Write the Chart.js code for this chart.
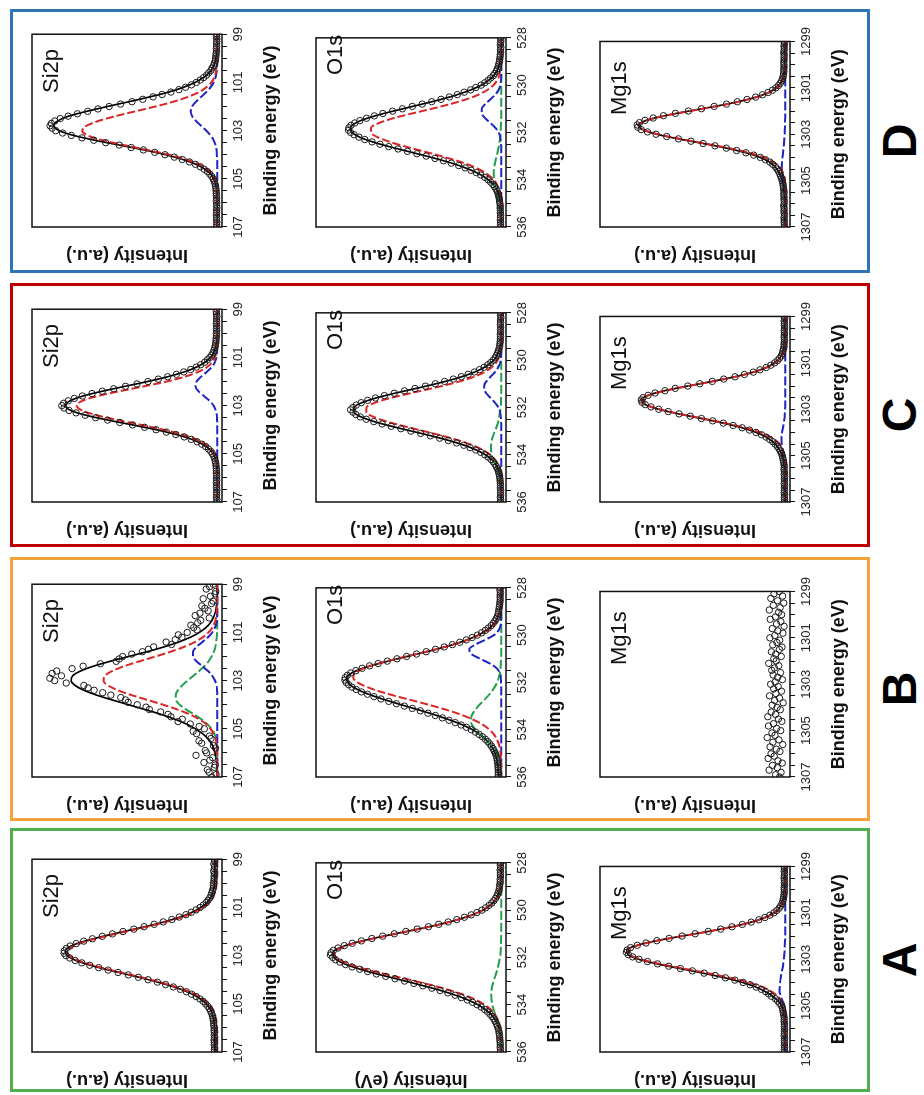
<!DOCTYPE html>
<html>
<head>
<meta charset="utf-8">
<title>XPS spectra A-D</title>
<script src="https://cdn.jsdelivr.net/npm/chart.js@4.4.1/dist/chart.umd.min.js"></script>
<style>
  html, body { margin: 0; padding: 0; background: #fff; }
  body { width: 924px; height: 1095px; overflow: hidden; position: relative; }
  #page {
    position: absolute; left: 0; top: 0;
    width: 1095px; height: 924px;
    transform-origin: 0 0;
    transform: translate(0px, 1095px) rotate(-90deg);
    background: #fff;
  }
  .frame { position: absolute; box-sizing: border-box; border: 3px solid; }
  .letter {
    position: absolute; width: 80px; text-align: center;
    font: bold 48px "Liberation Sans", Arial, sans-serif; color: #000; line-height: 48px;
  }
  canvas { position: absolute; }
</style>
</head>
<body>
<div id="page"></div>
<script>
// ---- axes ----
const PANELS = ['A', 'B', 'C', 'D'];
const SPECTRA = ['Si2p', 'O1s', 'Mg1s'];
const SI2P_TICKS = [107, 105, 103, 101, 99];
const O1S_TICKS = [536, 534, 532, 530, 528];
const MG1S_TICKS = [1307, 1305, 1303, 1301, 1299];

// ---- binding energies (eV): 0.2 eV grid for fitted curves, 0.1 eV grid for measured points ----
const SI2P_E = [99,99.2,99.4,99.6,99.8,100,100.2,100.4,100.6,100.8,101,101.2,101.4,101.6,101.8,102,102.2,102.4,102.6,102.8,103,103.2,103.4,103.6,103.8,104,104.2,104.4,104.6,104.8,105,105.2,105.4,105.6,105.8,106,106.2,106.4,106.6,106.8,107];
const O1S_E = [528,528.2,528.4,528.6,528.8,529,529.2,529.4,529.6,529.8,530,530.2,530.4,530.6,530.8,531,531.2,531.4,531.6,531.8,532,532.2,532.4,532.6,532.8,533,533.2,533.4,533.6,533.8,534,534.2,534.4,534.6,534.8,535,535.2,535.4,535.6,535.8,536];
const MG1S_E = [1299,1299.2,1299.4,1299.6,1299.8,1300,1300.2,1300.4,1300.6,1300.8,1301,1301.2,1301.4,1301.6,1301.8,1302,1302.2,1302.4,1302.6,1302.8,1303,1303.2,1303.4,1303.6,1303.8,1304,1304.2,1304.4,1304.6,1304.8,1305,1305.2,1305.4,1305.6,1305.8,1306,1306.2,1306.4,1306.6,1306.8,1307];
const SI2P_E_FINE = [99,99.1,99.2,99.3,99.4,99.5,99.6,99.7,99.8,99.9,100,100.1,100.2,100.3,100.4,100.5,100.6,100.7,100.8,100.9,101,101.1,101.2,101.3,101.4,101.5,101.6,101.7,101.8,101.9,102,102.1,102.2,102.3,102.4,102.5,102.6,102.7,102.8,102.9,103,103.1,103.2,103.3,103.4,103.5,103.6,103.7,103.8,103.9,104,104.1,104.2,104.3,104.4,104.5,104.6,104.7,104.8,104.9,105,105.1,105.2,105.3,105.4,105.5,105.6,105.7,105.8,105.9,106,106.1,106.2,106.3,106.4,106.5,106.6,106.7,106.8,106.9,107];
const O1S_E_FINE = [528,528.1,528.2,528.3,528.4,528.5,528.6,528.7,528.8,528.9,529,529.1,529.2,529.3,529.4,529.5,529.6,529.7,529.8,529.9,530,530.1,530.2,530.3,530.4,530.5,530.6,530.7,530.8,530.9,531,531.1,531.2,531.3,531.4,531.5,531.6,531.7,531.8,531.9,532,532.1,532.2,532.3,532.4,532.5,532.6,532.7,532.8,532.9,533,533.1,533.2,533.3,533.4,533.5,533.6,533.7,533.8,533.9,534,534.1,534.2,534.3,534.4,534.5,534.6,534.7,534.8,534.9,535,535.1,535.2,535.3,535.4,535.5,535.6,535.7,535.8,535.9,536];
const MG1S_E_FINE = [1299,1299.1,1299.2,1299.3,1299.4,1299.5,1299.6,1299.7,1299.8,1299.9,1300,1300.1,1300.2,1300.3,1300.4,1300.5,1300.6,1300.7,1300.8,1300.9,1301,1301.1,1301.2,1301.3,1301.4,1301.5,1301.6,1301.7,1301.8,1301.9,1302,1302.1,1302.2,1302.3,1302.4,1302.5,1302.6,1302.7,1302.8,1302.9,1303,1303.1,1303.2,1303.3,1303.4,1303.5,1303.6,1303.7,1303.8,1303.9,1304,1304.1,1304.2,1304.3,1304.4,1304.5,1304.6,1304.7,1304.8,1304.9,1305,1305.1,1305.2,1305.3,1305.4,1305.5,1305.6,1305.7,1305.8,1305.9,1306,1306.1,1306.2,1306.3,1306.4,1306.5,1306.6,1306.7,1306.8,1306.9,1307];

// ---- sample A ----
const A_SI2P_DATA = [1.6,1.3,1.8,1.4,1.5,1.9,1.4,1.7,1.6,1.8,1.9,2.0,2.1,2.5,2.9,3.3,3.9,4.8,5.8,7.3,9.0,11.1,13.6,16.5,20.0,23.9,28.4,33.2,38.5,43.9,49.6,55.2,60.5,65.7,70.3,74.2,77.4,79.4,80.5,80.6,79.6,77.6,74.8,71.3,67.1,62.4,57.4,52.2,46.8,41.5,36.4,31.5,27.2,23.1,19.4,16.2,13.5,11.1,9.1,7.4,6.1,5.0,4.1,3.5,2.9,2.5,2.3,2.0,1.9,1.8,1.6,1.7,1.5,1.6,1.4,1.7,1.5,1.6,1.4,1.5,1.6];
const A_SI2P_FIT = [1.2,1.2,1.2,1.2,1.3,1.5,1.8,2.5,3.6,5.5,8.6,13.2,19.6,28.0,38.1,49.2,60.1,69.9,76.9,80.0,79.1,74.4,66.8,57.1,46.5,36.1,26.9,19.1,13.1,8.8,5.8,3.8,2.6,2.0,1.6,1.4,1.2,1.2,1.2,1.2,1.2];
const A_SI2P_RED = [0,0,0,0,0.1,0.3,0.6,1.3,2.4,4.3,7.4,12.0,18.4,26.8,36.9,48.0,58.9,68.7,75.7,78.8,77.9,73.2,65.6,55.9,45.3,34.9,25.7,17.9,11.9,7.6,4.6,2.6,1.4,0.8,0.4,0.2,0,0,0,0,0];

const A_O1S_DATA = [0.4,0.5,0.3,0.6,0.4,0.5,0.4,0.6,0.5,0.7,0.9,1.0,1.3,1.8,2.3,3.0,3.9,5.0,6.4,8.2,10.2,12.8,15.8,19.4,23.4,27.9,32.9,38.3,44.2,50.2,56.3,62.4,68.1,73.6,78.4,82.6,85.9,88.3,89.6,89.9,88.7,87.2,84.9,82.0,78.5,74.5,70.3,65.7,60.8,55.9,50.9,46.0,41.3,36.5,32.2,28.1,24.3,21.0,17.8,15.1,12.7,10.5,8.8,7.2,5.9,4.8,3.9,3.2,2.5,2.1,1.6,1.3,1.1,0.9,0.8,0.7,0.6,0.5,0.6,0.4,0.5];
const A_O1S_FIT = [0,0,0,0,0.2,0.5,1.0,1.9,3.4,5.9,9.7,15.3,22.9,32.4,43.7,55.9,67.7,78.1,85.4,88.8,88.1,84.5,78.1,70.0,60.4,50.5,40.9,31.8,23.9,17.4,12.3,8.4,5.5,3.5,2.1,1.2,0.7,0.4,0.2,0.1,0];
const A_O1S_RED = [0,0,0,0,0.2,0.5,1.0,1.9,3.4,5.8,9.6,15.1,22.6,32.0,43.2,55.3,67.0,77.2,84.5,87.8,87.0,82.8,75.7,66.4,56.1,45.4,35.4,26.5,19.0,13.1,8.7,5.5,3.4,2.0,1.1,0.6,0.3,0.2,0.1,0,0];
const A_O1S_GREEN = [0,0,0,0,0,0,0,0,0,0,0,0,0,0,0,0,0.1,0.1,0.2,0.4,0.7,1.2,1.7,2.4,3.2,4.0,4.7,5.1,5.3,5.1,4.7,4.0,3.2,2.4,1.7,1.2,0.7,0.4,0.2,0.1,0.1];

const A_MG1S_DATA = [0.5,0.4,0.6,0.3,0.5,0.6,0.4,0.5,0.3,0.6,0.5,0.5,0.6,0.8,1.0,1.3,1.7,2.4,3.2,4.5,6.0,8.1,10.7,13.9,17.9,22.6,28.0,34.0,40.5,47.4,54.3,61.1,67.6,73.3,77.9,81.4,83.2,83.6,82.6,80.3,77.0,72.5,67.2,61.3,55.2,48.9,42.7,36.9,31.5,26.5,22.2,18.5,15.3,12.5,10.3,8.7,7.2,5.2,4.0,3.0,2.0,1.5,1.3,1.0,0.8,0.6,0.5,0.6,0.4,0.5,0.3,0.5,0.4,0.6,0.3,0.5,0.4,0.5,0.3,0.5,0.4];
const A_MG1S_FIT = [0.4,0.4,0.4,0.4,0.4,0.4,0.6,1.0,1.8,3.2,6.0,10.7,17.9,28.0,40.5,54.3,67.7,78.0,83.4,82.8,77.2,67.5,55.5,43.2,31.9,22.5,15.4,10.5,6.6,3.8,1.9,1.1,0.6,0.5,0.4,0.4,0.4,0.4,0.4,0.4,0.4];
const A_MG1S_RED = [0,0,0,0,0,0,0.2,0.6,1.3,2.8,5.6,10.3,17.5,27.6,40.1,53.9,67.2,77.4,82.7,81.9,76.0,66.0,53.6,40.8,29.1,19.4,12.1,7.1,3.9,2.0,1.0,0.5,0.2,0.1,0,0,0,0,0,0,0];
const A_MG1S_BLUE = [0,0,0,0,0,0,0,0,0,0,0,0,0,0,0,0,0.1,0.2,0.3,0.5,0.8,1.1,1.5,2.0,2.4,2.7,2.9,3.0,2.3,1.4,0.5,0.2,0,0,0,0,0,0,0,0,0];

// ---- sample B ----
const B_SI2P_DATA = [2.1,4.0,5.8,0.8,1.2,3.6,7.4,2.2,3.0,8.1,6.5,4.8,9.1,11.6,4.2,8.7,10.3,13.9,12.4,10.6,15.8,20.5,18.6,22.1,26.9,24.0,33.5,36.2,39.4,45.0,49.8,51.6,53.2,61.5,70.6,76.4,84.5,86.9,82.0,88.1,85.6,79.5,70.2,68.0,64.8,60.3,56.0,50.8,48.3,46.9,42.1,37.5,35.7,29.8,25.9,24.4,18.4,20.6,14.2,9.5,6.8,12.7,10.9,4.1,3.3,9.6,8.2,2.0,0.9,6.3,5.6,11.2,2.4,3.9,7.0,1.1,1.5,5.2,4.3,0.6,2.8];
const B_SI2P_FIT = [0,0,0,0.1,0.3,0.6,1.2,2.1,3.6,6.0,9.4,14.2,20.3,28.0,37.0,46.7,56.4,65.1,71.9,76.1,76.9,74.8,70.2,63.6,55.4,46.7,38.0,29.6,22.4,16.3,11.5,7.8,5.1,3.2,1.9,1.2,0.6,0.3,0.2,0.1,0];
const B_SI2P_RED = [0,0,0,0,0.1,0.2,0.4,0.7,1.4,2.6,4.6,7.6,11.8,17.5,24.5,32.6,41.0,48.9,55.3,59.1,59.9,57.5,52.3,45.1,36.8,28.5,20.9,14.5,9.5,5.9,3.5,2.0,1.0,0.5,0.2,0.1,0,0,0,0,0];
const B_SI2P_BLUE = [0,0,0,0,0,0,0,0.1,0.4,1.2,2.6,4.9,7.9,10.9,12.7,12.7,10.9,7.9,4.9,2.6,1.2,0.4,0.1,0,0,0,0,0,0,0,0,0,0,0,0,0,0,0,0,0,0];
const B_SI2P_GREEN = [0,0,0,0,0,0,0,0,0,0,0.1,0.3,0.6,1.0,1.8,3.0,4.6,6.8,9.5,12.6,15.7,18.5,20.7,21.8,21.7,19.8,16.4,12.3,8.4,5.3,3.0,1.5,0.7,0.3,0.1,0,0,0,0,0,0];

const B_O1S_DATA = [0.5,0.7,0.4,0.6,0.6,0.5,0.7,0.8,1.0,1.2,1.4,1.6,2.0,2.6,3.3,4.2,5.3,6.8,8.4,10.3,12.6,15.3,18.4,21.8,25.7,30.0,34.6,39.5,44.6,49.8,54.9,60.0,64.8,69.3,73.2,76.5,79.2,81.0,82.1,82.3,81.6,80.3,78.6,76.3,73.6,70.4,67.0,63.3,59.2,55.2,51.0,46.8,42.6,38.6,34.7,31.0,27.5,24.2,21.1,18.3,15.8,13.6,11.6,9.9,8.4,7.1,6.0,5.1,4.3,3.7,3.1,2.7,2.3,2.1,1.9,1.7,1.7,1.6,1.5,1.6,1.5];
const B_O1S_FIT = [0,0,0.1,0.2,0.5,0.9,1.6,2.9,4.9,7.9,12.2,18.0,25.4,34.3,44.3,54.6,64.5,72.9,78.7,81.4,80.8,77.9,73.0,66.3,58.6,50.3,41.9,33.9,26.7,20.3,15.1,11.3,8.3,6.0,4.4,3.3,2.5,2.0,1.7,1.5,1.4];
const B_O1S_RED = [0,0,0.1,0.2,0.4,0.7,1.4,2.6,4.5,7.5,11.8,17.7,25.4,34.5,44.7,55.1,64.7,72.3,76.9,77.9,75.6,70.5,63.2,54.4,44.9,35.7,27.2,20.0,14.1,9.5,6.2,3.9,2.3,1.3,0.7,0.4,0.2,0.1,0,0,0];
const B_O1S_BLUE = [0,0,0,0,0,0,0,0.1,0.4,1.4,3.9,8.4,13.7,16.8,15.7,11.1,6.0,2.4,0.7,0.2,0.1,0,0,0,0,0,0,0,0,0,0,0,0,0,0,0,0,0,0,0,0];
const B_O1S_GREEN = [0,0,0,0,0,0,0,0,0,0,0,0,0,0,0,0.1,0.2,0.4,0.7,1.3,2.2,3.5,5.2,7.3,9.7,12.1,14.1,15.5,16,15.4,13.6,11.1,8.3,5.8,3.7,2.2,1.2,0.6,0.3,0.1,0];

const B_MG1S_DATA = [3.2,5.9,1.4,7.6,4.1,0.8,6.3,2.7,8.4,3.5,1.9,5.2,7.9,2.3,4.6,0.6,6.8,3.9,1.2,5.5,8.1,2.9,4.4,6.6,1.7,3.1,7.3,5.0,2.1,6.0,4.8,8.7,3.4,5.7,7.1,2.5,6.4,4.0,1.5,5.3,7.7,3.7,6.1,2.0,4.9,8.3,3.0,5.6,1.1,6.9,4.3,2.6,7.4,5.1,9.2,3.6,1.8,6.2,8.8,4.5,2.4,7.0,5.4,9.5,3.3,6.5,1.3,8.0,4.7,2.8,7.5,5.8,9.0,3.8,1.6,6.7,4.2,8.5,2.2,5.1,3.0];

// ---- sample C ----
const C_SI2P_DATA = [0.3,0.5,0.4,0.2,0.4,0.3,0.5,0.3,0.4,0.3,0.5,0.4,0.6,0.6,0.8,1.0,1.3,1.7,2.2,2.9,3.9,5.2,6.6,8.7,11.0,14.0,17.6,21.5,26.1,31.0,36.5,42.2,48.3,54.5,60.5,65.9,71.0,75.2,78.4,80.8,81.8,80.6,78.0,74.3,69.5,64.0,57.7,51.3,44.6,38.3,32.2,26.8,21.8,17.4,13.7,10.6,8.1,6.1,4.6,3.4,2.5,1.8,1.4,1.0,0.8,0.6,0.5,0.4,0.5,0.3,0.4,0.3,0.5,0.3,0.4,0.2,0.4,0.3,0.4,0.2,0.3];
const C_SI2P_FIT = [0,0,0,0,0,0,0.2,0.4,0.9,1.8,3.5,6.4,10.8,17.4,26.0,36.7,48.6,60.4,70.6,77.5,80,77.1,69.1,57.6,44.6,32.1,21.5,13.4,7.8,4.2,2.1,1.0,0.4,0.2,0,0,0,0,0,0,0];
const C_SI2P_RED = [0,0,0,0,0,0,0,0,0.2,0.5,1.3,2.7,5.4,10.0,17.0,26.6,38.6,51.3,62.8,71.0,74,71.2,63.4,52.3,40.0,28.2,18.4,11.2,6.3,3.3,1.6,0.7,0.3,0.1,0,0,0,0,0,0,0];
const C_SI2P_BLUE = [0,0,0,0,0,0,0,0,0,0.1,0.4,1.2,2.9,5.5,8.5,10.9,11.4,9.9,7.0,4.1,1.9,0.8,0.2,0.1,0,0,0,0,0,0,0,0,0,0,0,0,0,0,0,0,0];

const C_O1S_DATA = [0.3,0.4,0.2,0.4,0.3,0.5,0.3,0.4,0.3,0.5,0.4,0.5,0.5,0.7,0.8,1.1,1.5,1.9,2.5,3.2,4.2,5.5,7.1,9.0,11.4,14.1,17.4,21.0,25.2,29.8,34.7,39.9,45.4,50.9,56.3,61.5,66.2,70.3,73.7,76.3,78.0,79.3,78.0,76.5,74.2,71.0,67.1,62.7,57.9,52.8,47.6,42.4,37.3,32.4,27.8,23.5,19.7,16.4,13.4,10.8,8.7,6.9,5.4,4.2,3.3,2.6,1.9,1.5,1.2,0.9,0.7,0.6,0.5,0.4,0.5,0.3,0.4,0.3,0.5,0.3,0.4];
const C_O1S_FIT = [0,0,0,0,0,0.1,0.2,0.5,1.2,2.2,3.9,6.8,11.1,17.1,24.9,34.4,45.1,56.0,65.9,73.4,77.5,77.5,73.8,66.8,57.6,47.3,37.0,27.5,19.4,13.1,8.4,5.1,3.0,1.6,0.9,0.4,0.2,0.1,0,0,0];
const C_O1S_RED = [0,0,0,0,0,0,0,0.2,0.4,0.9,1.9,3.6,6.6,11.2,17.8,26.5,36.8,47.8,58.2,66.4,70.9,71.0,67.2,60.1,50.9,40.8,31.0,22.2,15.1,9.7,5.9,3.4,1.9,0.9,0.4,0.2,0,0,0,0,0];
const C_O1S_BLUE = [0,0,0,0,0,0,0,0,0,0.1,0.3,1.0,2.3,4.4,6.8,8.7,9.1,7.9,5.6,3.3,1.5,0.6,0.2,0.1,0,0,0,0,0,0,0,0,0,0,0,0,0,0,0,0,0];
const C_O1S_GREEN = [0,0,0,0,0,0,0,0,0,0,0,0,0,0,0,0,0,0,0.1,0.1,0.3,0.6,1.0,1.6,2.4,3.3,4.3,5.0,5.4,5.4,5.0,4.3,3.3,2.4,1.6,1.0,0.6,0.3,0.1,0.1,0];

const C_MG1S_DATA = [0.5,0.3,0.6,0.4,0.5,0.3,0.6,0.4,0.5,0.6,0.4,0.5,0.7,0.6,0.9,1.3,1.5,2.1,3.0,4.1,5.6,7.6,10.0,13.3,16.8,21.5,26.4,32.4,38.4,45.0,51.3,57.9,63.3,68.5,72.2,74.9,75.8,75.4,73.7,70.7,66.6,61.6,55.9,50.0,44.1,38.2,32.6,27.4,22.7,18.8,15.4,12.5,10.1,8.2,6.6,5.3,4.2,3.3,2.6,2.0,1.6,1.3,1.0,0.8,0.6,0.5,0.7,0.4,0.6,0.3,0.5,0.4,0.6,0.3,0.5,0.4,0.6,0.3,0.5,0.4,0.5];
const C_MG1S_FIT = [0.4,0.4,0.4,0.4,0.4,0.4,0.6,0.9,1.6,3.0,5.6,10.1,16.9,26.5,38.5,51.4,63.4,72.3,75.9,73.7,66.7,56.1,44.1,32.6,22.7,15.4,10.1,6.6,4.2,2.6,1.6,1.0,0.6,0.5,0.4,0.4,0.4,0.4,0.4,0.4,0.4];
const C_MG1S_RED = [0,0,0,0,0,0,0.2,0.5,1.2,2.6,5.2,9.7,16.5,26.1,38.1,51.0,63.0,71.9,75.5,73.3,66.2,55.5,43.3,31.4,21.1,13.3,7.7,4.2,2.1,1.0,0.4,0.2,0,0,0,0,0,0,0,0,0];
const C_MG1S_BLUE = [0,0,0,0,0,0,0,0,0,0,0,0,0,0,0,0,0,0,0,0,0.1,0.2,0.4,0.8,1.2,1.7,2.0,2.0,1.7,1.2,0.8,0.4,0.2,0.1,0,0,0,0,0,0,0];

// ---- sample D ----
const D_SI2P_DATA = [0.3,0.4,0.2,0.3,0.4,0.3,0.5,0.4,0.6,0.7,0.9,1.0,1.5,1.9,2.7,3.3,4.5,5.6,7.2,8.9,11.0,13.6,16.7,20.2,24.4,29.0,33.8,39.2,44.9,50.9,56.9,62.8,68.2,73.6,78.5,82.6,85.5,87.3,88.0,86.9,85.0,81.4,76.8,71.2,65.0,58.7,51.6,45.3,38.9,32.9,27.5,22.6,18.4,14.6,11.5,8.9,6.9,5.2,3.9,2.9,2.1,1.6,1.2,0.9,0.7,0.6,0.5,0.4,0.3,0.5,0.3,0.4,0.2,0.4,0.3,0.5,0.3,0.4,0.2,0.3,0.3];
const D_SI2P_FIT = [0,0,0,0.2,0.3,0.7,1.3,2.4,4.3,7.3,11.6,17.7,25.5,35.5,46.4,57.9,68.7,78.3,84,86,83.2,75.6,64.4,51.5,38.6,27.2,18,11.1,6.5,3.5,1.8,0.9,0.4,0.2,0,0,0,0,0,0,0];
const D_SI2P_RED = [0,0,0,0,0,0,0.1,0.4,0.8,1.6,3.1,5.7,9.6,15.4,23.1,32.6,43.1,53.6,62.6,68.8,71,68.2,60.3,49.2,37,25.5,16.3,9.6,5.2,2.6,1.2,0.5,0.2,0,0,0,0,0,0,0,0];
const D_SI2P_BLUE = [0,0,0,0,0,0,0,0.2,0.4,0.9,1.9,3.5,5.8,8.5,11.2,13.2,14,13.2,11.2,8.5,5.8,3.5,1.9,0.9,0.4,0.2,0,0,0,0,0,0,0,0,0,0,0,0,0,0,0];

const D_O1S_DATA = [0.4,0.2,0.3,0.5,0.2,0.4,0.3,0.5,0.6,0.8,0.9,1.3,1.5,2.1,2.5,3.4,4.2,5.6,6.9,8.7,10.6,13.4,16.1,19.5,23.1,27.3,31.7,36.6,41.6,46.8,52.0,57.2,62.3,66.8,70.9,74.4,77.1,79.1,80.2,80.4,79.3,77.4,74.9,71.8,68.0,63.8,59.2,54.3,49.4,44.4,39.5,34.9,30.4,26.3,22.4,19.0,15.9,13.1,10.8,8.7,7.0,5.6,4.4,3.5,2.7,2.1,1.6,1.4,1.0,0.9,0.7,0.5,0.6,0.4,0.5,0.3,0.4,0.5,0.3,0.4,0.3];
const D_O1S_FIT = [0,0,0,0.1,0.3,0.6,1.3,2.3,4.0,6.7,10.5,16.0,23.0,31.6,41.5,51.8,61.9,70.5,76.6,79.4,78.5,74.5,67.7,59.0,49.2,39.4,30.2,22.2,15.7,10.6,6.8,4.2,2.5,1.4,0.8,0.4,0.2,0.1,0,0,0];
const D_O1S_RED = [0,0,0,0,0,0.1,0.2,0.5,1.1,2.2,4.1,7.2,11.9,18.4,26.8,36.6,47.1,56.8,64.3,68.5,68.6,65.1,58.7,50.3,40.9,31.7,23.2,16.1,10.7,6.7,4.0,2.3,1.2,0.6,0.3,0.1,0,0,0,0,0];
const D_O1S_BLUE = [0,0,0,0,0,0,0,0,0,0.2,0.5,1.4,3.1,5.7,8.4,10.2,10.2,8.4,5.7,3.1,1.4,0.5,0.2,0,0,0,0,0,0,0,0,0,0,0,0,0,0,0,0,0,0];
const D_O1S_GREEN = [0,0,0,0,0,0,0,0,0,0,0,0,0,0,0,0,0,0,0.1,0.2,0.3,0.5,0.9,1.3,1.8,2.4,3.0,3.5,3.9,4,3.9,3.5,3.0,2.4,1.8,1.3,0.9,0.5,0.3,0.2,0.1];

const D_MG1S_DATA = [0.6,0.4,0.7,0.5,0.6,0.8,0.5,0.7,0.6,0.8,0.7,0.6,0.8,0.7,0.9,1.1,1.4,1.9,2.6,3.6,4.9,6.7,9.0,12.0,15.6,20.1,25.2,30.9,37.4,44.1,51.0,57.8,64.1,69.5,73.8,76.7,77.9,77.6,75.8,72.5,68.0,62.4,56.2,49.6,43.2,37.0,31.0,25.6,20.7,16.6,13.1,10.4,8.1,6.6,5.2,4.3,3.5,2.9,2.4,2.0,1.6,1.3,1.1,0.9,0.8,0.6,0.8,0.6,0.7,0.5,0.6,0.8,0.5,0.7,0.6,0.4,0.7,0.5,0.6,0.4,0.5];
const D_MG1S_FIT = [0.4,0.4,0.4,0.4,0.4,0.4,0.5,0.7,1.3,2.5,4.8,8.8,15.4,24.9,37.0,50.5,63.5,73.1,77.3,75.1,67.7,56.2,43.2,30.9,20.6,13.2,8.3,5.4,3.6,2.4,1.6,1.0,0.7,0.5,0.4,0.4,0.4,0.4,0.4,0.4,0.4];
const D_MG1S_RED = [0,0,0,0,0,0,0.1,0.3,0.9,2.1,4.4,8.4,15.0,24.5,36.6,50.1,63.1,72.7,76.9,74.7,67.0,55.3,42.1,29.5,19.0,11.3,6.2,3.2,1.5,0.6,0.2,0.1,0,0,0,0,0,0,0,0,0];
const D_MG1S_BLUE = [0,0,0,0,0,0,0,0,0,0,0,0,0,0,0,0,0,0.1,0.1,0.2,0.3,0.5,0.7,1.0,1.2,1.5,1.7,1.8,1.7,1.4,1.0,0.5,0.3,0.1,0,0,0,0,0,0,0];

// ---- one entry per spectrum ----
const AXES = {
  Si2p: { e: SI2P_E, fine: SI2P_E_FINE, lo: 99, hi: 107, ticks: SI2P_TICKS },
  O1s:  { e: O1S_E, fine: O1S_E_FINE, lo: 528, hi: 536, ticks: O1S_TICKS },
  Mg1s: { e: MG1S_E, fine: MG1S_E_FINE, lo: 1299, hi: 1307, ticks: MG1S_TICKS }
};
const PLOTS = [
  { panel: 'A', name: 'Si2p', data: A_SI2P_DATA, fit: A_SI2P_FIT, red: A_SI2P_RED },
  { panel: 'A', name: 'O1s', data: A_O1S_DATA, fit: A_O1S_FIT, red: A_O1S_RED, green: A_O1S_GREEN, ytitle: 'Intensity (eV)' },
  { panel: 'A', name: 'Mg1s', data: A_MG1S_DATA, fit: A_MG1S_FIT, red: A_MG1S_RED, blue: A_MG1S_BLUE },
  { panel: 'B', name: 'Si2p', data: B_SI2P_DATA, fit: B_SI2P_FIT, red: B_SI2P_RED, blue: B_SI2P_BLUE, green: B_SI2P_GREEN },
  { panel: 'B', name: 'O1s', data: B_O1S_DATA, fit: B_O1S_FIT, red: B_O1S_RED, blue: B_O1S_BLUE, green: B_O1S_GREEN },
  { panel: 'B', name: 'Mg1s', data: B_MG1S_DATA },
  { panel: 'C', name: 'Si2p', data: C_SI2P_DATA, fit: C_SI2P_FIT, red: C_SI2P_RED, blue: C_SI2P_BLUE },
  { panel: 'C', name: 'O1s', data: C_O1S_DATA, fit: C_O1S_FIT, red: C_O1S_RED, blue: C_O1S_BLUE, green: C_O1S_GREEN },
  { panel: 'C', name: 'Mg1s', data: C_MG1S_DATA, fit: C_MG1S_FIT, red: C_MG1S_RED, blue: C_MG1S_BLUE },
  { panel: 'D', name: 'Si2p', data: D_SI2P_DATA, fit: D_SI2P_FIT, red: D_SI2P_RED, blue: D_SI2P_BLUE },
  { panel: 'D', name: 'O1s', data: D_O1S_DATA, fit: D_O1S_FIT, red: D_O1S_RED, blue: D_O1S_BLUE, green: D_O1S_GREEN },
  { panel: 'D', name: 'Mg1s', data: D_MG1S_DATA, fit: D_MG1S_FIT, red: D_MG1S_RED, blue: D_MG1S_BLUE }
];

// ---- layout (figure drawn landscape, then turned a quarter to the left) ----
const FONT = '"Liberation Sans", Arial, Helvetica, sans-serif';
const FRAME_COLOR = { A: '#4DAF4F', B: '#F2A23A', C: '#C00000', D: '#2E75B6' };
const FRAME_LEFT = { A: 3, B: 274, C: 548, D: 822 };
const PLOT_LEFT = { A: 43, B: 318, C: 593, D: 868 };
const ROW_TOP = { Si2p: 32, O1s: 316, Mg1s: 600 };
const NAME_X = { Si2p: 134, O1s: 152, Mg1s: 112 };
const PLOT_W = 196, PLOT_H = 190, Y_AXIS_W = 40, X_AXIS_H = 62, PAD_TOP = 12, PAD_RIGHT = 8;
const COLORS = { red: '#DC2626', blue: '#1F24C2', green: '#23A04C', fit: '#000000' };
const DASH = { red: [8, 3], blue: [9, 3], green: [9, 3] };

const page = document.getElementById('page');

PANELS.forEach(function (p) {
  const f = document.createElement('div');
  f.className = 'frame';
  f.style.left = FRAME_LEFT[p] + 'px';
  f.style.top = '10px';
  f.style.width = '264px';
  f.style.height = '860px';
  f.style.borderColor = FRAME_COLOR[p];
  page.appendChild(f);
  const l = document.createElement('div');
  l.className = 'letter';
  l.textContent = p;
  l.style.left = (FRAME_LEFT[p] + 132 - 40) + 'px';
  l.style.top = '876px';
  page.appendChild(l);
});

const boxPlugin = {
  id: 'boxAndName',
  afterDatasetsDraw(chart, args, opts) {
    const a = chart.chartArea, ctx = chart.ctx;
    ctx.save();
    ctx.strokeStyle = '#111';
    ctx.lineWidth = 1.5;
    ctx.strokeRect(a.left, a.top, a.right - a.left, a.bottom - a.top);
    ctx.fillStyle = '#111';
    ctx.font = '22px ' + FONT;
    ctx.textBaseline = 'alphabetic';
    ctx.textAlign = 'left';
    ctx.fillText(opts.name, a.left + opts.nameX, a.top + 26);
    ctx.restore();
  }
};

function points(xs, ys) {
  return ys.map(function (y, i) { return { x: xs[i], y: y }; });
}
function curve(label, xs, ys, color, dash) {
  return {
    label: label,
    data: points(xs, ys),
    showLine: true,
    pointRadius: 0,
    borderColor: color,
    borderWidth: dash ? 2 : 1.7,
    borderDash: dash || [],
    cubicInterpolationMode: 'monotone',
    fill: false
  };
}

PLOTS.forEach(function (p) {
  const ax = AXES[p.name];
  const canvas = document.createElement('canvas');
  canvas.width = Y_AXIS_W + PLOT_W + PAD_RIGHT;
  canvas.height = PAD_TOP + PLOT_H + X_AXIS_H;
  canvas.style.left = (PLOT_LEFT[p.panel] - Y_AXIS_W) + 'px';
  canvas.style.top = (ROW_TOP[p.name] - PAD_TOP) + 'px';
  page.appendChild(canvas);

  const datasets = [{
    label: 'measured',
    data: points(ax.fine, p.data),
    showLine: false,
    pointRadius: 3.2,
    pointBorderWidth: 1,
    pointBorderColor: '#1a1a1a',
    pointBackgroundColor: 'rgba(255,255,255,0)'
  }];
  if (p.red) datasets.push(curve('component 1', ax.e, p.red, COLORS.red, DASH.red));
  if (p.blue) datasets.push(curve('component 2', ax.e, p.blue, COLORS.blue, DASH.blue));
  if (p.green) datasets.push(curve('component 3', ax.e, p.green, COLORS.green, DASH.green));
  if (p.fit) datasets.push(curve('envelope', ax.e, p.fit, COLORS.fit, null));

  new Chart(canvas, {
    type: 'scatter',
    data: { datasets: datasets },
    plugins: [boxPlugin],
    options: {
      responsive: false,
      animation: false,
      events: [],
      layout: { padding: { left: 0, top: PAD_TOP, right: PAD_RIGHT, bottom: 0 } },
      plugins: {
        legend: { display: false },
        tooltip: { enabled: false },
        boxAndName: { name: p.name, nameX: NAME_X[p.name] }
      },
      scales: {
        x: {
          type: 'linear',
          reverse: true,
          min: ax.lo,
          max: ax.hi,
          afterFit: function (s) { s.height = X_AXIS_H; },
          border: { display: false },
          grid: { display: true, drawOnChartArea: false, drawTicks: true, tickLength: 5, color: '#111', lineWidth: 1 },
          ticks: {
            stepSize: 0.5,
            autoSkip: false,
            maxRotation: 0,
            minRotation: 0,
            padding: 4,
            color: '#222',
            font: { family: FONT, size: 13 },
            callback: function (v) { return ax.ticks.indexOf(v) >= 0 ? String(v) : ''; }
          },
          title: {
            display: true,
            text: 'Binding energy (eV)',
            color: '#111',
            font: { family: FONT, size: 18, weight: 'bold' },
            padding: { top: 0, bottom: 2 }
          }
        },
        y: {
          min: -2.5,
          max: 97.5,
          afterFit: function (s) { s.width = Y_AXIS_W; },
          border: { display: false },
          grid: { display: false },
          ticks: { display: false },
          title: {
            display: true,
            text: p.ytitle || 'Intensity (a.u.)',
            color: '#111',
            font: { family: FONT, size: 18, weight: 'bold' },
            padding: { top: 1, bottom: 0 }
          }
        }
      }
    }
  });
});
</script>
</body>
</html>
